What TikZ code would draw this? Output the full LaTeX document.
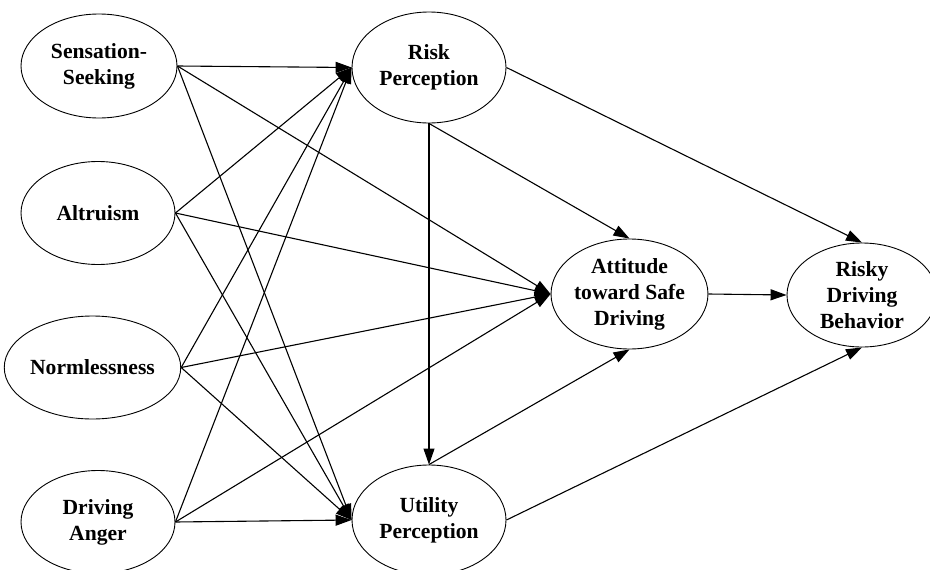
\documentclass[tikz,border=0pt]{standalone}
\usepackage{fontspec}
\setmainfont{Liberation Serif}
\usetikzlibrary{shapes.geometric,arrows.meta}
\tikzset{
  construct/.style={ellipse, draw, line width=0.9pt, inner sep=0pt, align=center,
    font=\bfseries\fontsize{21.6}{26}\selectfont},
  path/.style={line width=1.1pt, -{Triangle[length=16pt,width=11pt]}}
}
\begin{document}
\begin{tikzpicture}[x=1pt,y=-1pt]
\useasboundingbox (0,0) rectangle (930,570);
% exogenous traits
\node[construct, minimum width=156pt, minimum height=104pt] (ss) at (99,66) {Sensation-\\Seeking};
\node[construct, minimum width=154pt, minimum height=103pt] (al) at (98,213) {Altruism};
\node[construct, minimum width=165pt, minimum height=103pt] (nl) at (92.5,367.5) {Normlessness};
\node[construct, minimum width=154pt, minimum height=103pt] (da) at (98,522) {Driving\\Anger};
% mediators and outcome
\node[construct, minimum width=154pt, minimum height=111pt] (rp) at (429,67.5) {Risk\\Perception};
\node[construct, minimum width=154pt, minimum height=110pt] (up) at (429,520) {Utility\\Perception};
\node[construct, minimum width=155pt, minimum height=110pt] (at) at (629.5,294) {Attitude\\toward Safe\\Driving};
\node[construct, minimum width=150pt, minimum height=104pt] (rb) at (862,295) {Risky\\Driving\\Behavior};
% trait paths
\foreach \s in {ss,al,nl,da}{
  \draw[path] (\s.east) -- (rp.west);
  \draw[path] (\s.east) -- (at.west);
  \draw[path] (\s.east) -- (up.west);
}
% mediator paths
\draw[path] (rp.south) -- (up.north);
\draw[path] (rp.south) -- (at.north);
\draw[path] (rp.east) -- (rb.north);
\draw[path] (up.north) -- (at.south);
\draw[path] (up.east) -- (rb.south);
\draw[path] (at.east) -- (rb.west);
\end{tikzpicture}
\end{document}
